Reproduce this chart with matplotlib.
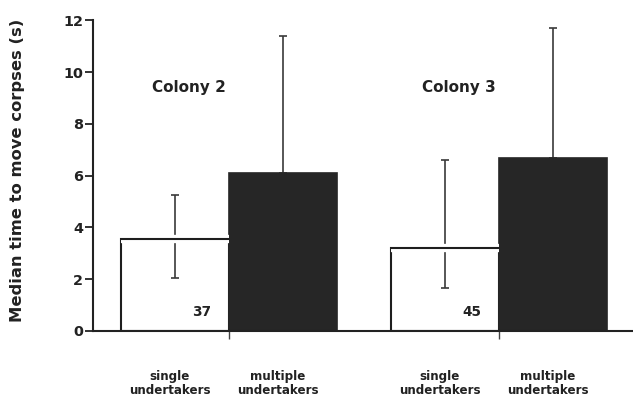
import numpy as np
import matplotlib
matplotlib.use("Agg")
from matplotlib import pyplot as plt
import matplotlib.patheffects as pe

plt.rcParams['font.family'] = ['DejaVu Sans']
plt.rcParams['font.weight'] = 'bold'

# median time to move corpses (s), per colony
colonies = ["Colony 2", "Colony 3"]
single_median = [3.55, 3.2]
single_low = [2.05, 1.65]
single_high = [5.25, 6.6]
multiple_median = [6.1, 6.67]
multiple_high = [11.4, 11.7]
n_single = [37, 45]
bar_labels = ["single\nundertakers", "multiple\nundertakers"]

# bar centres: single / multiple side by side, groups 2.5 bar widths apart
group_x = np.array([0.0, 2.5])
single_x = group_x
multiple_x = group_x + 1.0

fig = plt.figure(figsize=(6.33, 4.0), dpi=100)
ax = fig.add_axes([0.147, 0.1725, 0.853, 0.78])

ax.bar(single_x, single_median, width=1.0, color="white", edgecolor="#1e1e1e",
       linewidth=1.5, zorder=2)
ax.bar(multiple_x, multiple_median, width=1.0, color="#262626", edgecolor="#262626",
       linewidth=1.2, zorder=2)

lo = np.array(single_median) - np.array(single_low)
hi = np.array(single_high) - np.array(single_median)
ax.errorbar(single_x, single_median, yerr=[lo, hi], fmt="none", ecolor="#3a3a3a",
            elinewidth=1.2, capsize=3.2, capthick=1.2, zorder=3)
up = np.array(multiple_high) - np.array(multiple_median)
ax.errorbar(multiple_x, multiple_median, yerr=[np.zeros(2), up], fmt="none",
            ecolor="#3a3a3a", elinewidth=1.2, capsize=3.2, capthick=1.2, zorder=1)

# top edge of the open bars drawn over the whisker with a white gap
tops = ax.hlines(single_median, single_x - 0.5, single_x + 0.5, colors="#1e1e1e",
                 linewidth=1.5, zorder=4)
tops.set_capstyle("butt")
tops.set_path_effects([pe.Stroke(linewidth=6, foreground="white", capstyle="butt"),
                       pe.Normal()])

for x, n in zip(single_x, n_single):
    ax.text(x + 0.25, 0.45, str(n), ha="center", va="bottom", fontsize=9.8,
            fontweight="bold", color="#222222")

for x, name in zip(single_x, colonies):
    ax.text(x + 0.13, 9.4, name, ha="center", va="center", fontsize=11,
            fontweight="bold", color="#222222")

ax.set_xlim(-0.76, 4.24)
ax.set_ylim(0, 12.05)
ax.spines["top"].set_visible(False)
ax.spines["right"].set_visible(False)
ax.spines["left"].set_bounds(0, 12)
for s in ("left", "bottom"):
    ax.spines[s].set_linewidth(1.5)
    ax.spines[s].set_color("#222222")

ax.set_yticks(range(0, 13, 2))
ax.tick_params(axis="y", length=6, width=1.3, labelsize=10.4, pad=1,
               colors="#222222")

# small ticks between the paired bars, labels under each bar
ax.set_xticks(group_x + 0.5)
ax.set_xticklabels([])
ax.tick_params(axis="x", which="major", length=6, width=1.0, direction="out",
               colors="#444444")
ax.set_xticks(np.concatenate([single_x, multiple_x]) - 0.05, minor=True)
ax.set_xticklabels(bar_labels[:1] * 2 + bar_labels[1:] * 2, minor=True)
ax.tick_params(axis="x", which="minor", length=0, pad=28, labelsize=8.6,
               labelcolor="#222222")
for t in ax.get_xticklabels(minor=True):
    t.set_linespacing(1.1)
    t.set_fontweight("bold")
for t in ax.get_yticklabels():
    t.set_fontweight("bold")

ax.set_ylabel("Median time to move corpses (s)", fontsize=11.8, fontweight="bold",
              color="#222222")
ax.yaxis.set_label_coords(-0.126, 0.516)

fig.savefig("out.png", dpi=100)
